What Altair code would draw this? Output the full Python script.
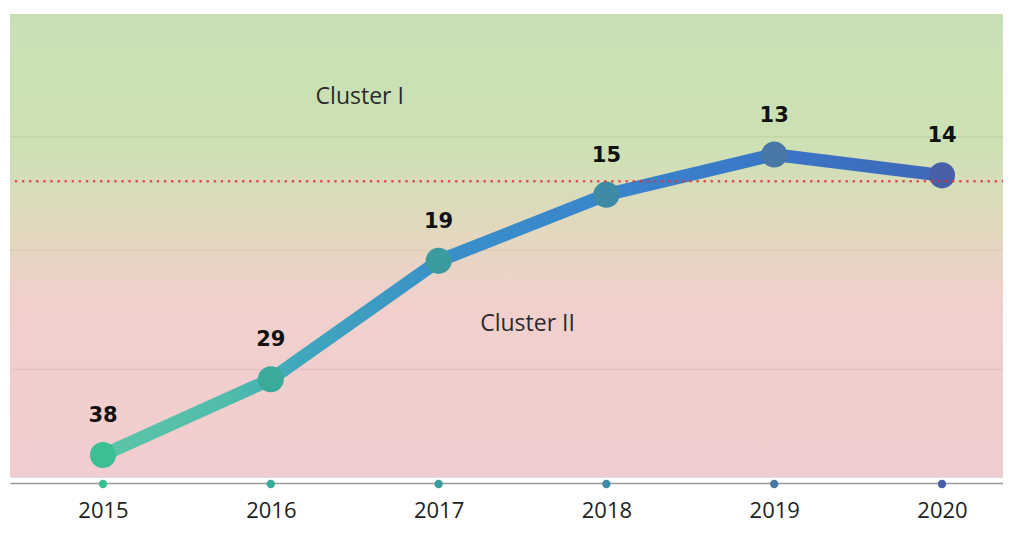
import altair as alt
import pandas as pd

# ---- data ----
years = [2015, 2016, 2017, 2018, 2019, 2020]
ranks = [38, 29, 19, 15, 13, 14]
threshold = 14.3
grid_values = [12.2, 18.3, 28]
cluster_labels = ["Cluster I", "Cluster II"]
cluster_x = [2016.53, 2017.53]
cluster_y = [10.6, 23.8]

point_colors = ["#3dbf95", "#3aab98", "#3b9b9e", "#3e8ba6", "#4a78a6", "#465fa8"]

df = pd.DataFrame({"year": years, "rank": ranks})
clusters = pd.DataFrame({"label": cluster_labels, "x": cluster_x, "y": cluster_y})
thr = pd.DataFrame({"t": [threshold]})
grid_df = pd.DataFrame({"g": grid_values})

W, H = 993, 463

xscale = alt.Scale(domain=[2014.4458, 2020.3635], nice=False, zero=False)
yscale = alt.Scale(type="log", domain=[7.87, 41.1], reverse=True, nice=False, zero=False)

x_enc = alt.X("year:Q", scale=xscale,
              axis=alt.Axis(values=years, format="d", title=None, ticks=False, grid=False,
                            domainColor="#9a9a9a", domainWidth=1.5, offset=6,
                            labelFont="Open Sans", labelFontSize=22, labelColor="#222222",
                            labelPadding=17))
y_enc = alt.Y("rank:Q", scale=yscale, axis=None)

bg_grad = alt.Gradient(
    gradient="linear", x1=0, x2=0, y1=0, y2=1,
    stops=[alt.GradientStop(offset=0, color="#c8e1b4"),
           alt.GradientStop(offset=0.28, color="#cce1b4"),
           alt.GradientStop(offset=0.45, color="#e0d9bd"),
           alt.GradientStop(offset=0.62, color="#f1d0cc"),
           alt.GradientStop(offset=1, color="#f2cdd0")])

line_grad = alt.Gradient(
    gradient="linear", x1=0, x2=1, y1=0, y2=0,
    stops=[alt.GradientStop(offset=0, color="#5ec4a8"),
           alt.GradientStop(offset=0.15, color="#50bcaa"),
           alt.GradientStop(offset=0.23, color="#3fa8bc"),
           alt.GradientStop(offset=0.4, color="#3a90c8"),
           alt.GradientStop(offset=0.6, color="#3a85cc"),
           alt.GradientStop(offset=0.8, color="#3a76c6"),
           alt.GradientStop(offset=1, color="#3f68b8")])

bg = alt.Chart(pd.DataFrame({"a": [0]})).mark_rect(color=bg_grad).encode(
    x=alt.value(0), x2=alt.value(W), y=alt.value(0), y2=alt.value(H))

grid = alt.Chart(grid_df).mark_rule(color="#000000", opacity=0.05, strokeWidth=1.5).encode(
    y=alt.Y("g:Q", scale=yscale, axis=None))

base = alt.Chart(df)

line = base.mark_line(stroke=line_grad, strokeWidth=13, strokeCap="round",
                      strokeJoin="round").encode(x=x_enc, y=y_enc)

color_enc = alt.Color("year:O", scale=alt.Scale(domain=years, range=point_colors), legend=None)

points = base.mark_circle(size=680, opacity=1).encode(
    x=alt.X("year:Q", scale=xscale), y=alt.Y("rank:Q", scale=yscale, axis=None), color=color_enc)

labels = base.mark_text(font="DejaVu Sans", fontWeight="bold", fontSize=21,
                        color="#111111", dy=-39, baseline="middle").encode(
    x=alt.X("year:Q", scale=xscale), y=alt.Y("rank:Q", scale=yscale, axis=None), text="rank:Q")

axis_dots = base.mark_circle(size=70, opacity=1).encode(
    x=alt.X("year:Q", scale=xscale), y=alt.value(H + 7), color=color_enc)

cluster_text = alt.Chart(clusters).mark_text(font="Open Sans", fontSize=23,
                                             color="#2b2b2b", baseline="middle").encode(
    x=alt.X("x:Q", scale=xscale), y=alt.Y("y:Q", scale=yscale, axis=None), text="label:N")

rule = alt.Chart(thr).mark_rule(color="#e8303a", strokeWidth=2.6, strokeDash=[0.1, 7],
                                strokeCap="round", opacity=0.9).encode(
    y=alt.Y("t:Q", scale=yscale, axis=None))

chart = alt.layer(bg, grid, line, points, axis_dots, labels, cluster_text, rule).properties(
    width=W, height=H,
    autosize=alt.AutoSizeParams(type="none"),
    padding={"left": 2, "top": 6, "right": 0, "bottom": 45},
).configure_view(strokeWidth=0).configure(background="white")

chart.save("out.html", embed_options={"renderer": "svg", "actions": False})
